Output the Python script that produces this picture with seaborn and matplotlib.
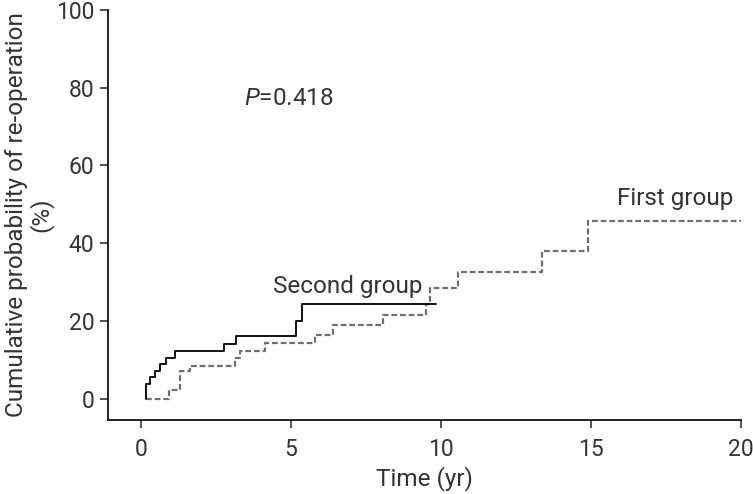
import pandas as pd
import matplotlib.pyplot as plt
import seaborn as sns

# step points (time in years, cumulative %)
first_t = [0.19, 0.93, 1.30, 1.63, 3.13, 3.30, 4.13, 5.80, 6.41, 8.08, 9.52, 9.65, 10.58, 13.36, 14.91, 20.0]
first_p = [0.0, 2.3, 7.2, 8.5, 10.5, 12.3, 14.3, 16.4, 18.9, 21.6, 24.5, 28.4, 32.5, 38.1, 45.8, 45.8]
second_t = [0.19, 0.19, 0.30, 0.47, 0.63, 0.83, 1.13, 2.78, 3.19, 5.19, 5.39, 9.85]
second_p = [0.0, 3.8, 5.6, 7.2, 8.9, 10.6, 12.3, 14.1, 16.2, 19.9, 24.4, 24.4]
x_ticks = [0, 5, 10, 15, 20]
y_ticks = [0, 20, 40, 60, 80, 100]

first = pd.DataFrame({"time": first_t, "prob": first_p})
second = pd.DataFrame({"time": second_t, "prob": second_p})

sns.set_style("ticks")
plt.rcParams["font.family"] = ["Roboto", "DejaVu Sans"]
plt.rcParams["mathtext.fontset"] = "custom"
plt.rcParams["mathtext.it"] = "Roboto:italic"
plt.rcParams["mathtext.rm"] = "Roboto"

txt = "#333333"
fig, ax = plt.subplots(figsize=(7.53, 4.94), dpi=100)
fig.subplots_adjust(left=0.143, right=0.984, top=0.980, bottom=0.150)

sns.lineplot(data=first, x="time", y="prob", ax=ax, drawstyle="steps-post",
             color="#6e6e6e", linestyle=(0, (2.6, 1.3)), linewidth=1.6, estimator=None, sort=False)
sns.lineplot(data=second, x="time", y="prob", ax=ax, drawstyle="steps-post",
             color="#111111", linewidth=1.4, estimator=None, sort=False)

ax.set_xlim(-1.1, 20)
ax.set_ylim(-5.4, 100)
ax.set_xticks(x_ticks)
ax.set_yticks(y_ticks)
ax.tick_params(labelsize=16.5, colors=txt, length=6, width=1.2, direction="out")
ax.tick_params(axis="x", pad=7)
for s in ["left", "bottom"]:
    ax.spines[s].set_linewidth(1.4)
    ax.spines[s].set_color("#222222")
sns.despine(ax=ax)

ax.set_xlabel("Time (yr)", fontsize=17.5, color=txt, labelpad=4)
ax.set_ylabel("Cumulative probability of re-operation\n(%)", fontsize=17.5, color=txt,
              linespacing=1.0, labelpad=2)

ax.text(4.93, 77.1, "$P$=0.418", fontsize=17.5, color=txt, ha="center", va="center")
ax.text(17.8, 51.4, "First group", fontsize=17.5, color=txt, ha="center", va="center")
ax.text(6.9, 28.8, "Second group", fontsize=17.5, color=txt, ha="center", va="center")

plt.savefig("out.png", dpi=100)
